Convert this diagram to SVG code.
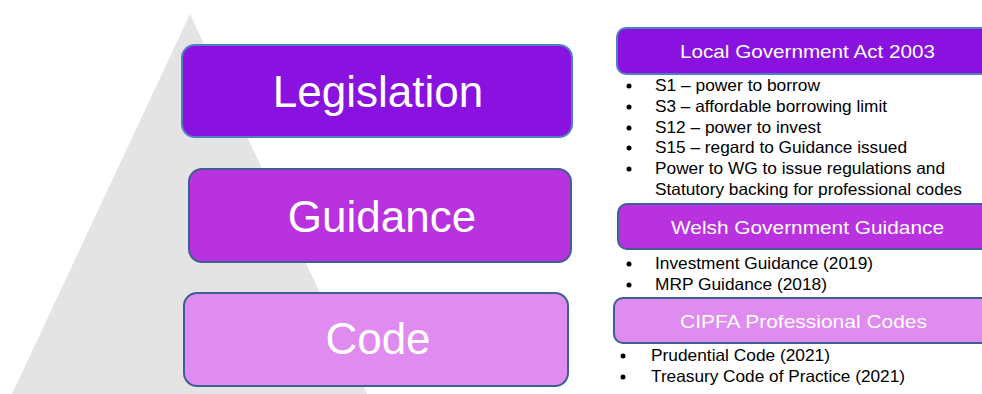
<svg xmlns="http://www.w3.org/2000/svg" width="982" height="394" viewBox="0 0 982 394">
  <style>
    .box { stroke-width: 2; }
    .lvl1 { fill: #8912e1; stroke: #4f7fbf; }
    .lvl2 { fill: #b832e0; stroke: #3e5f8f; }
    .lvl3 { fill: #df8bef; stroke: #3e5f8f; }
    .big { font-family: "Liberation Sans", Arial, sans-serif; font-size: 44px; fill: #ffffff; text-anchor: middle; }
    .head { font-family: "Liberation Sans", Arial, sans-serif; font-size: 19px; fill: #ffffff; }
    .item { font-family: "Liberation Sans", Arial, sans-serif; font-size: 16.5px; fill: #000000; }
    .dot { fill: #000000; }
  </style>

  <!-- grey pyramid backdrop -->
  <polygon points="190,14 12,394 367,394" fill="#e4e4e4"/>

  <!-- pyramid tiers -->
  <g id="legislation">
    <rect class="box lvl1" x="182" y="45" width="390" height="92" rx="13"/>
    <text class="big" x="378" y="107">Legislation</text>
  </g>
  <g id="guidance">
    <rect class="box lvl2" x="189" y="169" width="382" height="93" rx="13"/>
    <text class="big" x="382" y="232">Guidance</text>
  </g>
  <g id="code">
    <rect class="box lvl3" x="184" y="293" width="384" height="93" rx="13"/>
    <text class="big" x="378" y="354">Code</text>
  </g>

  <!-- Local Government Act 2003 -->
  <g id="lga2003">
    <rect class="box lvl1" x="617" y="28" width="390" height="46" rx="9"/>
    <text class="head" x="680" y="58" textLength="255" lengthAdjust="spacingAndGlyphs">Local Government Act 2003</text>
    <circle class="dot" cx="629" cy="86" r="2.5"/>
    <text class="item" x="655" y="91" textLength="165" lengthAdjust="spacingAndGlyphs">S1 – power to borrow</text>
    <circle class="dot" cx="629" cy="107" r="2.5"/>
    <text class="item" x="655" y="112" textLength="232" lengthAdjust="spacingAndGlyphs">S3 – affordable borrowing limit</text>
    <circle class="dot" cx="629" cy="128" r="2.5"/>
    <text class="item" x="655" y="133" textLength="166" lengthAdjust="spacingAndGlyphs">S12 – power to invest</text>
    <circle class="dot" cx="629" cy="148" r="2.5"/>
    <text class="item" x="655" y="153" textLength="252" lengthAdjust="spacingAndGlyphs">S15 – regard to Guidance issued</text>
    <circle class="dot" cx="629" cy="169" r="2.5"/>
    <text class="item" x="655" y="174" textLength="290" lengthAdjust="spacingAndGlyphs">Power to WG to issue regulations and</text>
    <text class="item" x="655" y="195" textLength="307" lengthAdjust="spacingAndGlyphs">Statutory backing for professional codes</text>
  </g>

  <!-- Welsh Government Guidance -->
  <g id="wg-guidance">
    <rect class="box lvl2" x="618" y="204" width="390" height="45" rx="9"/>
    <text class="head" x="671" y="234" textLength="273" lengthAdjust="spacingAndGlyphs">Welsh Government Guidance</text>
    <circle class="dot" cx="629" cy="264" r="2.5"/>
    <text class="item" x="655" y="269" textLength="218" lengthAdjust="spacingAndGlyphs">Investment Guidance (2019)</text>
    <circle class="dot" cx="629" cy="285" r="2.5"/>
    <text class="item" x="655" y="290" textLength="172" lengthAdjust="spacingAndGlyphs">MRP Guidance (2018)</text>
  </g>

  <!-- CIPFA Professional Codes -->
  <g id="cipfa-codes">
    <rect class="box lvl3" x="614" y="298" width="394" height="45" rx="9"/>
    <text class="head" x="680" y="328" textLength="247" lengthAdjust="spacingAndGlyphs">CIPFA Professional Codes</text>
    <circle class="dot" cx="623" cy="356" r="2.5"/>
    <text class="item" x="651" y="361" textLength="179" lengthAdjust="spacingAndGlyphs">Prudential Code (2021)</text>
    <circle class="dot" cx="623" cy="377" r="2.5"/>
    <text class="item" x="651" y="382" textLength="254" lengthAdjust="spacingAndGlyphs">Treasury Code of Practice (2021)</text>
  </g>

  <!-- no connectors in this figure -->
  <g id="connectors"/>
</svg>
